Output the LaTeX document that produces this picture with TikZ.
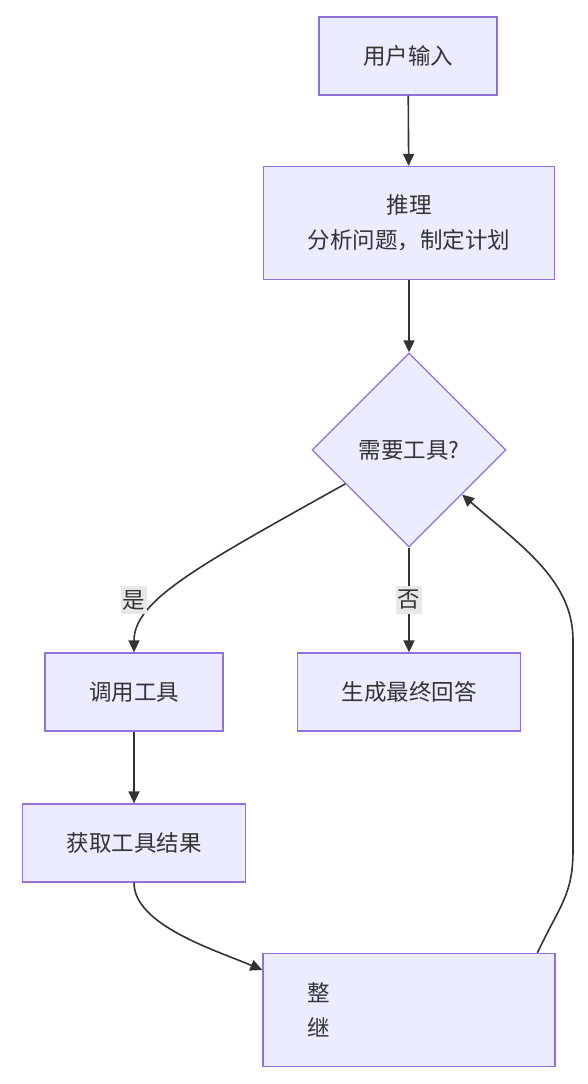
\documentclass[tikz,border=0pt]{standalone}
\usepackage{fontspec}
\newfontfamily\cjk{Noto Sans CJK SC}
\usepackage{tikz}
\usetikzlibrary{arrows.meta,shapes.geometric}
\tikzset{>={Triangle[length=12pt,width=11pt]}}
\usepackage{xcolor}
\definecolor{boxfill}{HTML}{ECECFF}
\definecolor{boxline}{HTML}{9370DB}
\definecolor{ink}{HTML}{333333}
\definecolor{lblfill}{HTML}{E8E8E8}
\tikzset{
  box/.style={draw=boxline, fill=boxfill, line width=1.3pt, inner xsep=44pt,
    minimum height=78pt, text=ink, align=center,
    font=\cjk\fontsize{22.5}{35}\selectfont},
  choice/.style={diamond, draw=boxline, fill=boxfill, line width=1.3pt,
    minimum width=194pt, minimum height=194pt, inner sep=0pt, text=ink,
    font=\cjk\fontsize{22.5}{35}\selectfont},
  link/.style={->, draw=ink, line width=1.6pt},
  lbl/.style={fill=lblfill, text=ink, inner xsep=1.5pt, inner ysep=4pt,
    font=\cjk\fontsize{22.5}{27}\selectfont}
}

\begin{document}
\begin{tikzpicture}[x=1pt, y=-1pt]
            \useasboundingbox (0,0) rectangle (588,1084);
            % Nodes
            \node[box] (input) at (408,56) {用户输入};
            \node[box, minimum height=113pt] (reason) at (409,223) {推理\\分析问题，制定计划};
            \node[choice] (decide) at (409,450) {需要工具?};
            \node[box] (call) at (134,692) {调用工具};
            \node[box] (answer) at (409,692) {生成最终回答};
            \node[box] (result) at (134,843) {获取工具结果};
            \node[box, minimum height=113pt, text width=204pt, align=left] (merge) at (409,1010) {整\\继};
            % Straight links
            \draw[link] (input) -- (reason);
            \draw[link] (reason) -- (decide);
            \draw[link] (call) -- (result);
            % Branch yes
            \draw[link] (decide.208) .. controls (200,565) and (134,600) .. (call.north);
            \node[lbl] (yes) at (134,600) {是};
            % Branch no
            \draw[link] (decide.south) -- (answer.north);
            \node[lbl] (no) at (409,600) {否};
            % Result into merge
            \draw[link] (result.south) .. controls (134,925) and (215,950) .. (merge.west |- 0,970);
            % Loop back to the decision
            \draw[link] (merge.24) .. controls (560,905) and (573,895) .. (573,850)
                -- (573,640) .. controls (573,580) and (520,545) .. (decide.-40);
        \end{tikzpicture}
\end{document}
